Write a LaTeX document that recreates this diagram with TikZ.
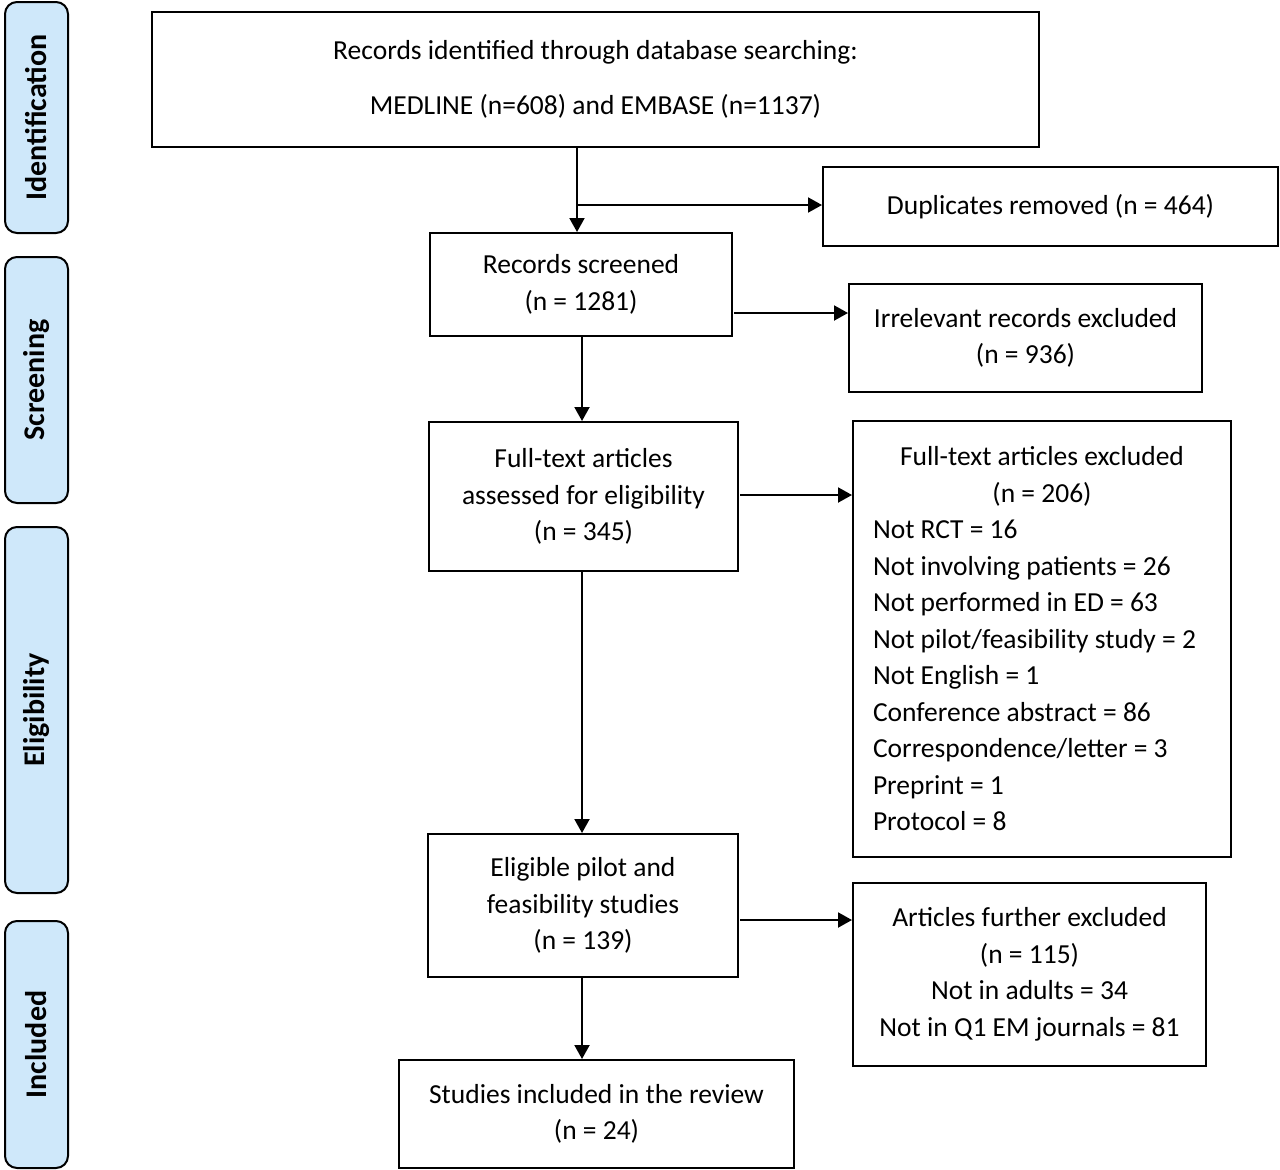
\documentclass[tikz,border=0pt]{standalone}
\usepackage{fontspec}
\setmainfont{Carlito}
\usetikzlibrary{arrows.meta}
\definecolor{sideblue}{HTML}{CFE8FA}
\begin{document}
\begin{tikzpicture}[x=1pt,y=-1pt,
 box/.style={draw=black, line width=2pt, inner sep=0pt, align=center, font=\fontsize{27.5}{36.5}\selectfont},
 side/.style={draw=black, line width=2pt, rounded corners=12pt, fill=sideblue, inner sep=0pt, rotate=90, font=\bfseries\fontsize{30}{32}\selectfont},
 arr/.style={line width=2pt, -{Triangle[length=14pt,width=15pt]}}]
\useasboundingbox (0,0) rectangle (1280,1170);
% side labels
\node[side, minimum width=231, minimum height=63] (s1) at (36.5,117.5) {Identification};
\node[side, minimum width=246, minimum height=63] (s2) at (36.5,380) {Screening};
\node[side, minimum width=366, minimum height=63] (s3) at (36.5,710) {Eligibility};
\node[side, minimum width=247, minimum height=63] (s4) at (36.5,1044.5) {Included};
% boxes
\node[box, minimum width=887, minimum height=135] (b1) at (595.5,79.5) {Records identified through database searching:\\[18.5pt] MEDLINE (n=608) and EMBASE (n=1137)};
\node[box, minimum width=455, minimum height=79] (b2) at (1050.5,206.5) {Duplicates removed (n = 464)};
\node[box, minimum width=302, minimum height=103] (b3) at (581,284.5) {Records screened\\(n = 1281)};
\node[box, minimum width=353, minimum height=108] (b4) at (1025.5,338) {Irrelevant records excluded\\(n = 936)};
\node[box, minimum width=309, minimum height=149] (b5) at (583.5,496.5) {Full-text articles\\assessed for eligibility\\(n = 345)};
\node[box, minimum width=378, minimum height=436, align=left] (b6) at (1042,639) {\makebox[338pt]{Full-text articles excluded}\\
\makebox[338pt]{(n = 206)}\\
Not RCT = 16\\
Not involving patients = 26\\
Not performed in ED = 63\\
Not pilot/feasibility study = 2\\
Not English = 1\\
Conference abstract = 86\\
Correspondence/letter = 3\\
Preprint = 1\\
Protocol = 8};
\node[box, minimum width=310, minimum height=143] (b7) at (583,905.5) {Eligible pilot and\\feasibility studies\\(n = 139)};
\node[box, minimum width=353, minimum height=183] (b8) at (1029.5,974.5) {Articles further excluded\\(n = 115)\\Not in adults = 34\\Not in Q1 EM journals = 81};
\node[box, minimum width=395, minimum height=108] (b9) at (596.5,1114) {Studies included in the review\\(n = 24)};
% connectors
\coordinate (j1) at (577,205);
\draw[arr] (b1.south -| j1) -- (b3.north -| j1);
\draw[arr] (j1) -- (b2.west |- j1);
\coordinate (r1) at (734,313);
\draw[arr] (r1) -- (b4.west |- r1);
\coordinate (v1) at (582,0);
\draw[arr] (b3.south -| v1) -- (b5.north -| v1);
\coordinate (r2) at (740,495);
\draw[arr] (r2) -- (b6.west |- r2);
\draw[arr] (b5.south -| v1) -- (b7.north -| v1);
\coordinate (r3) at (740,920);
\draw[arr] (r3) -- (b8.west |- r3);
\draw[arr] (b7.south -| v1) -- (b9.north -| v1);
\end{tikzpicture}
\end{document}
